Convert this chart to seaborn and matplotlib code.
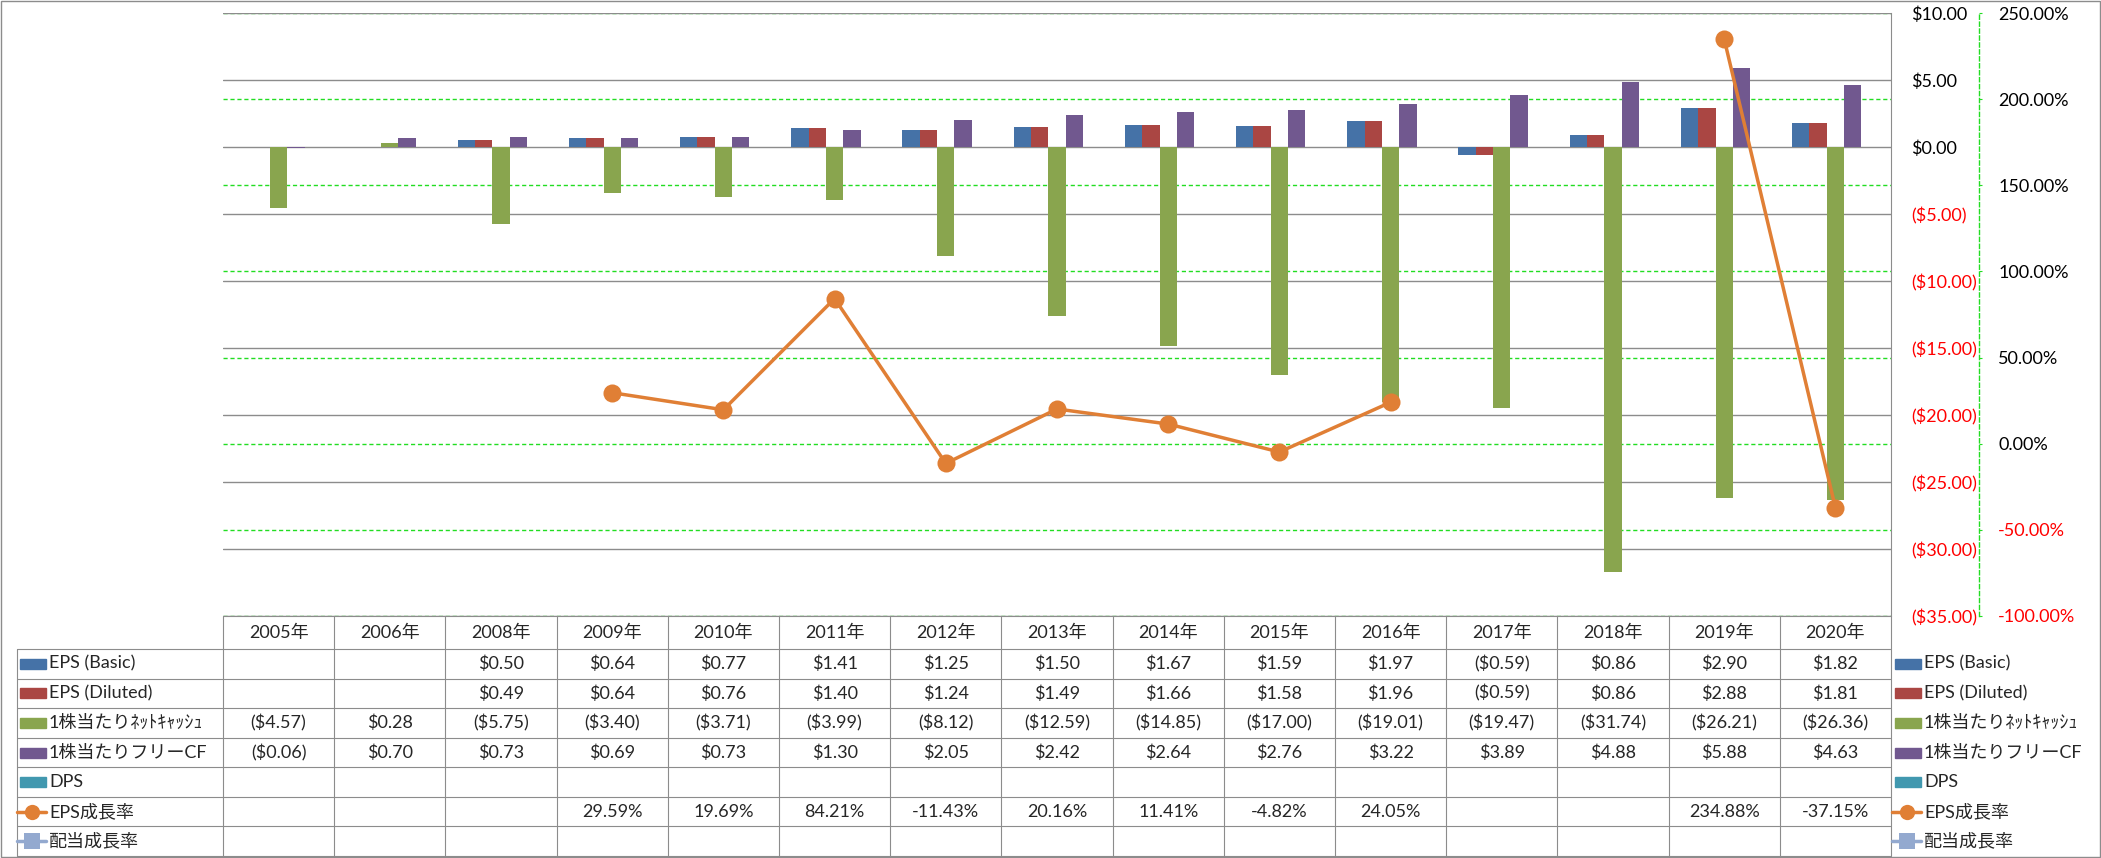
import numpy as np
import pandas as pd
import seaborn as sns
import matplotlib.pyplot as plt
from matplotlib.lines import Line2D
from matplotlib.patches import Rectangle
from matplotlib.ticker import FuncFormatter

nan = np.nan

years = ['2005年', '2006年', '2008年', '2009年', '2010年', '2011年', '2012年', '2013年',
         '2014年', '2015年', '2016年', '2017年', '2018年', '2019年', '2020年']
eps_basic = [nan, nan, 0.50, 0.64, 0.77, 1.41, 1.25, 1.50, 1.67, 1.59, 1.97, -0.59, 0.86, 2.90, 1.82]
eps_diluted = [nan, nan, 0.49, 0.64, 0.76, 1.40, 1.24, 1.49, 1.66, 1.58, 1.96, -0.59, 0.86, 2.88, 1.81]
net_cash = [-4.57, 0.28, -5.75, -3.40, -3.71, -3.99, -8.12, -12.59, -14.85, -17.00, -19.01,
            -19.47, -31.74, -26.21, -26.36]
free_cf = [-0.06, 0.70, 0.73, 0.69, 0.73, 1.30, 2.05, 2.42, 2.64, 2.76, 3.22, 3.89, 4.88, 5.88, 4.63]
dps = [nan] * 15
eps_growth = [nan, nan, nan, 29.59, 19.69, 84.21, -11.43, 20.16, 11.41, -4.82, 24.05, nan, nan,
              234.88, -37.15]
div_growth = [nan] * 15

bar_names = ['EPS (Basic)', 'EPS (Diluted)', '1株当たりﾈｯﾄｷｬｯｼｭ', '1株当たりフリーCF', 'DPS']
bar_values = [eps_basic, eps_diluted, net_cash, free_cf, dps]
bar_colors = ['#4572A7', '#AA4643', '#89A54E', '#71588F', '#4198AF']
line_names = ['EPS成長率', '配当成長率']
line_values = [eps_growth, div_growth]
line_colors = ['#E07F35', '#93A9CF']
line_markers = ['o', 's']

sns.set_style('white')
plt.rcParams['font.family'] = ['Lato', 'Noto Sans CJK JP']
FS = 13
GRAY = '#8C8C8C'
GREEN = '#22DD22'

W, H = 2101, 858
fig = plt.figure(figsize=(W / 100, H / 100), dpi=100)


def fx(x):
    return x / W


def fy(y):
    return 1 - y / H


# plot area in pixels
L, R, T, B = 223, 1891, 13, 616
ax = fig.add_axes([fx(L), fy(B), (R - L) / W, (B - T) / H])
ax2 = ax.twinx()   # secondary axis: labels + green grid, drawn below the bars
ax3 = ax.twinx()   # secondary axis: the growth line, drawn on top
ax2.set_zorder(0)
ax.set_zorder(1)
ax3.set_zorder(2)
ax.patch.set_visible(False)

rows = []
for name, vals in zip(bar_names, bar_values):
    for yr, v in zip(years, vals):
        rows.append({'year': yr, 'series': name, 'value': v})
df = pd.DataFrame(rows).dropna()

sns.barplot(data=df, x='year', y='value', hue='series', order=years, hue_order=bar_names,
            palette=dict(zip(bar_names, bar_colors)), width=0.78, saturation=1,
            errorbar=None, linewidth=0, legend=False, ax=ax)
ax.set_xlim(-0.5, len(years) - 0.5)
ax.set_ylim(-35, 10)
ax.set_xlabel('')
ax.set_ylabel('')

xs = np.arange(len(years))
for vals, c, m in zip(line_values, line_colors, line_markers):
    ax3.plot(xs, vals, color=c, lw=2.5, marker=m, markersize=13, markeredgewidth=0, clip_on=False)
ax3.set_ylim(-100, 250)
ax3.axis('off')

# primary axis (dollars) on the right
ax.yaxis.tick_right()
ax.set_yticks(np.arange(-35, 11, 5))
ax.yaxis.set_major_formatter(FuncFormatter(lambda v, p: f'${v:.2f}' if v >= 0 else f'(${-v:.2f})'))
ax.tick_params(axis='y', length=0, pad=14.4, labelsize=FS)
ax.tick_params(axis='x', bottom=False, labelbottom=False)
ax.grid(axis='y', color=GRAY, lw=1)
ax.set_axisbelow(True)
for s in ['top', 'left', 'bottom']:
    ax.spines[s].set_visible(False)
ax.spines['right'].set_color(GRAY)
ax.spines['right'].set_linewidth(0.8)

# secondary axis (percent)
ax2.set_ylim(-100, 250)
ax2.set_yticks(np.arange(-100, 251, 50))
ax2.yaxis.set_major_formatter(FuncFormatter(lambda v, p: f'{v:.2f}%'))
ax2.tick_params(axis='y', length=2.2, color=GREEN, pad=11.5, labelsize=FS)
ax2.grid(axis='y', color=GREEN, lw=1, linestyle=(0, (3, 2)))
for s in ['top', 'left', 'bottom']:
    ax2.spines[s].set_visible(False)
ax2.spines['right'].set_position(('axes', 1 + 88 / (R - L)))
ax2.spines['right'].set_color(GREEN)
ax2.spines['right'].set_linestyle((0, (3, 2)))
ax2.spines['right'].set_linewidth(1)

fig.canvas.draw()
for lbl, v in zip(ax.get_yticklabels(), ax.get_yticks()):
    lbl.set_color('red' if v < 0 else 'black')
for lbl, v in zip(ax2.get_yticklabels(), ax2.get_yticks()):
    lbl.set_color('red' if v < 0 else 'black')


# data table under the plot
def hline(x0, x1, y):
    fig.add_artist(Line2D([fx(x0), fx(x1)], [fy(y), fy(y)], color=GRAY, lw=0.8))


def vline(x, y0, y1):
    fig.add_artist(Line2D([fx(x), fx(x)], [fy(y0), fy(y1)], color=GRAY, lw=0.8))


col_w = (R - L) / len(years)
edges = [L + col_w * k for k in range(len(years) + 1)]
head_b = 649
row_h = (856 - head_b) / 7
row_y = [head_b + row_h * k for k in range(8)]

hline(L, R, B)
for y in row_y:
    hline(17, R, y)
for x in edges:
    vline(x, B, 856)
vline(17, head_b, 856)
for k, yr in enumerate(years):
    fig.text(fx(edges[k] + col_w / 2), fy((B + head_b) / 2), yr, ha='center', va='center', fontsize=FS)


def money(v):
    if np.isnan(v):
        return ''
    return f'${v:.2f}' if v >= 0 else f'(${-v:.2f})'


def pct(v):
    return '' if np.isnan(v) else f'{v:.2f}%'


table_rows = [(n, v, c, None, money) for n, v, c in zip(bar_names, bar_values, bar_colors)]
table_rows += [(n, v, c, m, pct) for n, v, c, m in zip(line_names, line_values, line_colors, line_markers)]


def key(x0, cy, color, marker):
    if marker is None:
        fig.add_artist(Rectangle((fx(x0), fy(cy + 5)), 26 / W, 10 / H, color=color,
                                 transform=fig.transFigure))
    else:
        fig.add_artist(Line2D([fx(x0 - 3), fx(x0 + 26)], [fy(cy), fy(cy)], color=color, lw=2.5))
        fig.add_artist(Line2D([fx(x0 + 11.5)], [fy(cy)], color=color, marker=marker,
                              markersize=11, markeredgewidth=0))


for i, (name, vals, color, marker, fmt) in enumerate(table_rows):
    cy = row_y[i] + row_h / 2
    key(20, cy, color, marker)
    fig.text(fx(49), fy(cy), name, ha='left', va='center', fontsize=FS)
    key(1895, cy, color, marker)
    fig.text(fx(1924), fy(cy), name, ha='left', va='center', fontsize=FS)
    for k, v in enumerate(vals):
        s = fmt(v)
        if s:
            fig.text(fx(edges[k] + col_w / 2), fy(cy), s, ha='center', va='center', fontsize=FS)

# chart border
fig.add_artist(Rectangle((fx(1), fy(857)), 2099 / W, 856 / H, fill=False, edgecolor=GRAY,
                         lw=1, transform=fig.transFigure))

fig.savefig('out.png', dpi=100, facecolor='white')
